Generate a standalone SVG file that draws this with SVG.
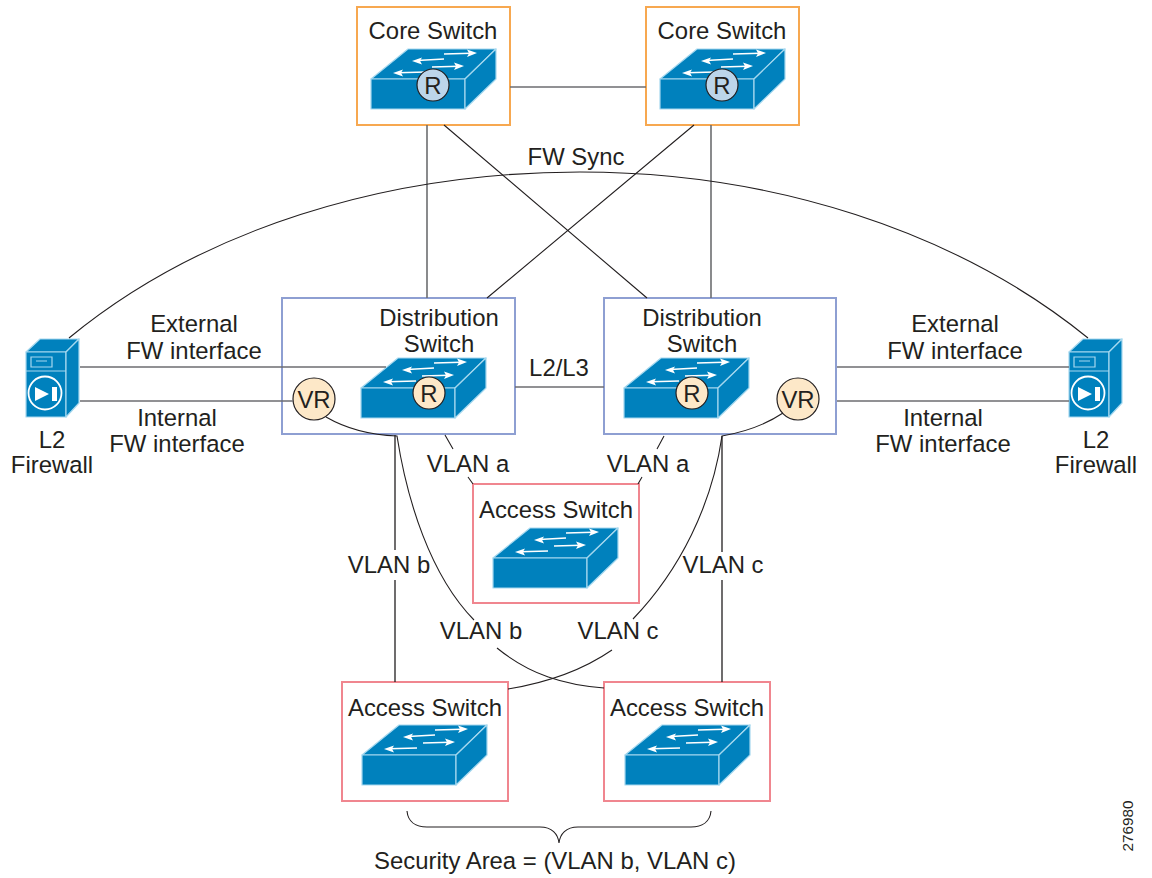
<svg xmlns="http://www.w3.org/2000/svg" xmlns:xlink="http://www.w3.org/1999/xlink" width="1152" height="878" viewBox="0 0 1152 878">
<style>
text{font-family:"Liberation Sans",Arial,sans-serif;font-size:23.9px;fill:#231f20;text-anchor:middle}
.core{fill:#fff;stroke:#f7a850;stroke-width:2}
.acc{fill:#fff;stroke:#f0868f;stroke-width:2}
.dist{fill:#fff;stroke:#8e9fd2;stroke-width:2}
.thin{fill:none;stroke:#231f20;stroke-width:1.1}
.gray{fill:none;stroke:#6d6e71;stroke-width:1.6}
.dev{fill:#0081bd;stroke:#a5d8ef;stroke-width:1.2;stroke-linejoin:round}
.ar{fill:none;stroke:#fff;stroke-width:1.5}
.ah{fill:#fff}
.r{fill:#bcd5ea;stroke:#231f20;stroke-width:1.2}
.vr{fill:#fde8c8;stroke:#231f20;stroke-width:1.2}
</style>
<defs>
<g id="sw">
<path class="dev" d="M0,0L37,-30H125L94,0Z"/>
<path class="dev" d="M0,0H94V30H0Z"/>
<path class="dev" d="M94,0L125,-30V0L94,30Z"/>
<path class="ar" d="M73,-25L100,-25.800M73,-20L46,-18.500M61,-12L88,-12.800M55,-7L27,-6.200"/>
<path class="ah" d="M106,-26L96,-29.500L98,-25.800L96,-22ZM41,-18L51,-21.500L49,-18.300L51,-14.500ZM93,-13L83,-16.500L85,-12.800L83,-9ZM22,-6L32,-9.500L30,-6.200L32,-2.500Z"/>
</g>
<g id="fw">
<path class="dev" d="M0,13L14,0H53L40,13Z"/>
<path class="dev" d="M0,13H40V78H0Z"/>
<path class="dev" d="M40,13L53,0V64L40,78Z"/>
<path fill="none" stroke="#a5d8ef" stroke-width="1.2" d="M0,32H40M5,18H26V28H5ZM10,22H21"/>
<circle cx="19" cy="54" r="16.500" fill="none" stroke="#fff" stroke-width="1.800"/>
<path fill="#fff" d="M9,48L23,55L9,62ZM26,48H31V62H26Z"/>
</g>
</defs>
<g id="core1"><rect class="core" x="357" y="7" width="153" height="118"/><text x="433" y="39">Core Switch</text><use xlink:href="#sw" href="#sw" x="371" y="79"/><circle class="r" cx="433" cy="85" r="16"/><text x="433" y="94">R</text></g>
<g id="core2"><rect class="core" x="646" y="7" width="153" height="118"/><text x="722" y="39">Core Switch</text><use xlink:href="#sw" href="#sw" x="660" y="79"/><circle class="r" cx="722" cy="85" r="16"/><text x="722" y="94">R</text></g>
<g id="dist1"><rect class="dist" x="282" y="298" width="233" height="136"/><text x="439" y="326">Distribution</text><text x="439" y="352">Switch</text><use xlink:href="#sw" href="#sw" x="361" y="388"/><circle class="r" style="fill:#fde8c8" cx="429" cy="393" r="16"/><text x="429" y="402">R</text><circle class="vr" cx="314" cy="399" r="21"/><text x="314" y="408">VR</text></g>
<g id="dist2"><rect class="dist" x="604" y="298" width="232" height="136"/><text x="702" y="326">Distribution</text><text x="702" y="352">Switch</text><use xlink:href="#sw" href="#sw" x="624" y="388"/><circle class="r" style="fill:#fde8c8" cx="692" cy="393" r="16"/><text x="692" y="402">R</text><circle class="vr" cx="798" cy="399" r="21"/><text x="798" y="408">VR</text></g>
<g id="access1"><rect class="acc" x="473" y="484" width="166" height="119"/><text x="556" y="518">Access Switch</text><use xlink:href="#sw" href="#sw" x="493" y="558"/></g>
<g id="access2"><rect class="acc" x="342" y="682" width="166" height="119"/><text x="425" y="716">Access Switch</text><use xlink:href="#sw" href="#sw" x="362" y="755"/></g>
<g id="access3"><rect class="acc" x="604" y="682" width="166" height="119"/><text x="687" y="716">Access Switch</text><use xlink:href="#sw" href="#sw" x="625" y="755"/></g>
<g id="fw1"><use xlink:href="#fw" href="#fw" x="26" y="339"/><text x="52" y="448">L2</text><text x="52" y="473">Firewall</text></g>
<g id="fw2"><use xlink:href="#fw" href="#fw" x="1069" y="339"/><text x="1096" y="448">L2</text><text x="1096" y="473">Firewall</text></g>
<g id="connectors">
<path class="gray" d="M510,87H646M427,125V298M711,125V298M80,367H386M80,401H293M515,387H604M837,367H1069M837,401H1069"/>
<path class="thin" style="stroke-width:1.3" d="M395,435V550M395,580V682M722,436V552M722,580V682"/>
<path class="thin" d="M444,125L647,298M694,125L487,298"/>
<path class="thin" d="M69,338C200,230 385,172 580,172C770,172 955,230 1088,338"/>
<path class="thin" d="M445,435L453,449M468,477L473,484M664,436L657,449M642,477L638,484"/>
<path class="thin" d="M326,417C345,428 370,435 397,436C407,500 430,575 474,620M497,648C530,675 565,685 604,688"/>
<path class="thin" d="M783,413C765,425 745,432 722,436C712,505 680,570 633,619M612,650C580,672 545,683 508,689"/>
<path class="thin" d="M407,811C408,822 416,827 427,827H540C552,827 558,834 559,843C560,834 566,827 578,827H691C702,827 710,822 711,811"/>
</g>
<g id="labels">
<text x="576" y="165">FW Sync</text>
<text x="194" y="332">External</text><text x="194" y="359">FW interface</text>
<text x="177" y="426">Internal</text><text x="177" y="452">FW interface</text>
<text x="955" y="332">External</text><text x="955" y="359">FW interface</text>
<text x="943" y="426">Internal</text><text x="943" y="452">FW interface</text>
<text x="559" y="376">L2/L3</text>
<text x="468" y="472">VLAN a</text><text x="648" y="472">VLAN a</text>
<text x="389" y="573">VLAN b</text><text x="723" y="573">VLAN c</text>
<text x="481" y="639">VLAN b</text><text x="618" y="639">VLAN c</text>
<text x="555" y="869">Security Area = (VLAN b, VLAN c)</text>
<text transform="translate(1133,826) rotate(-90)" style="font-size:15.300px">276980</text>
</g>
</svg>
